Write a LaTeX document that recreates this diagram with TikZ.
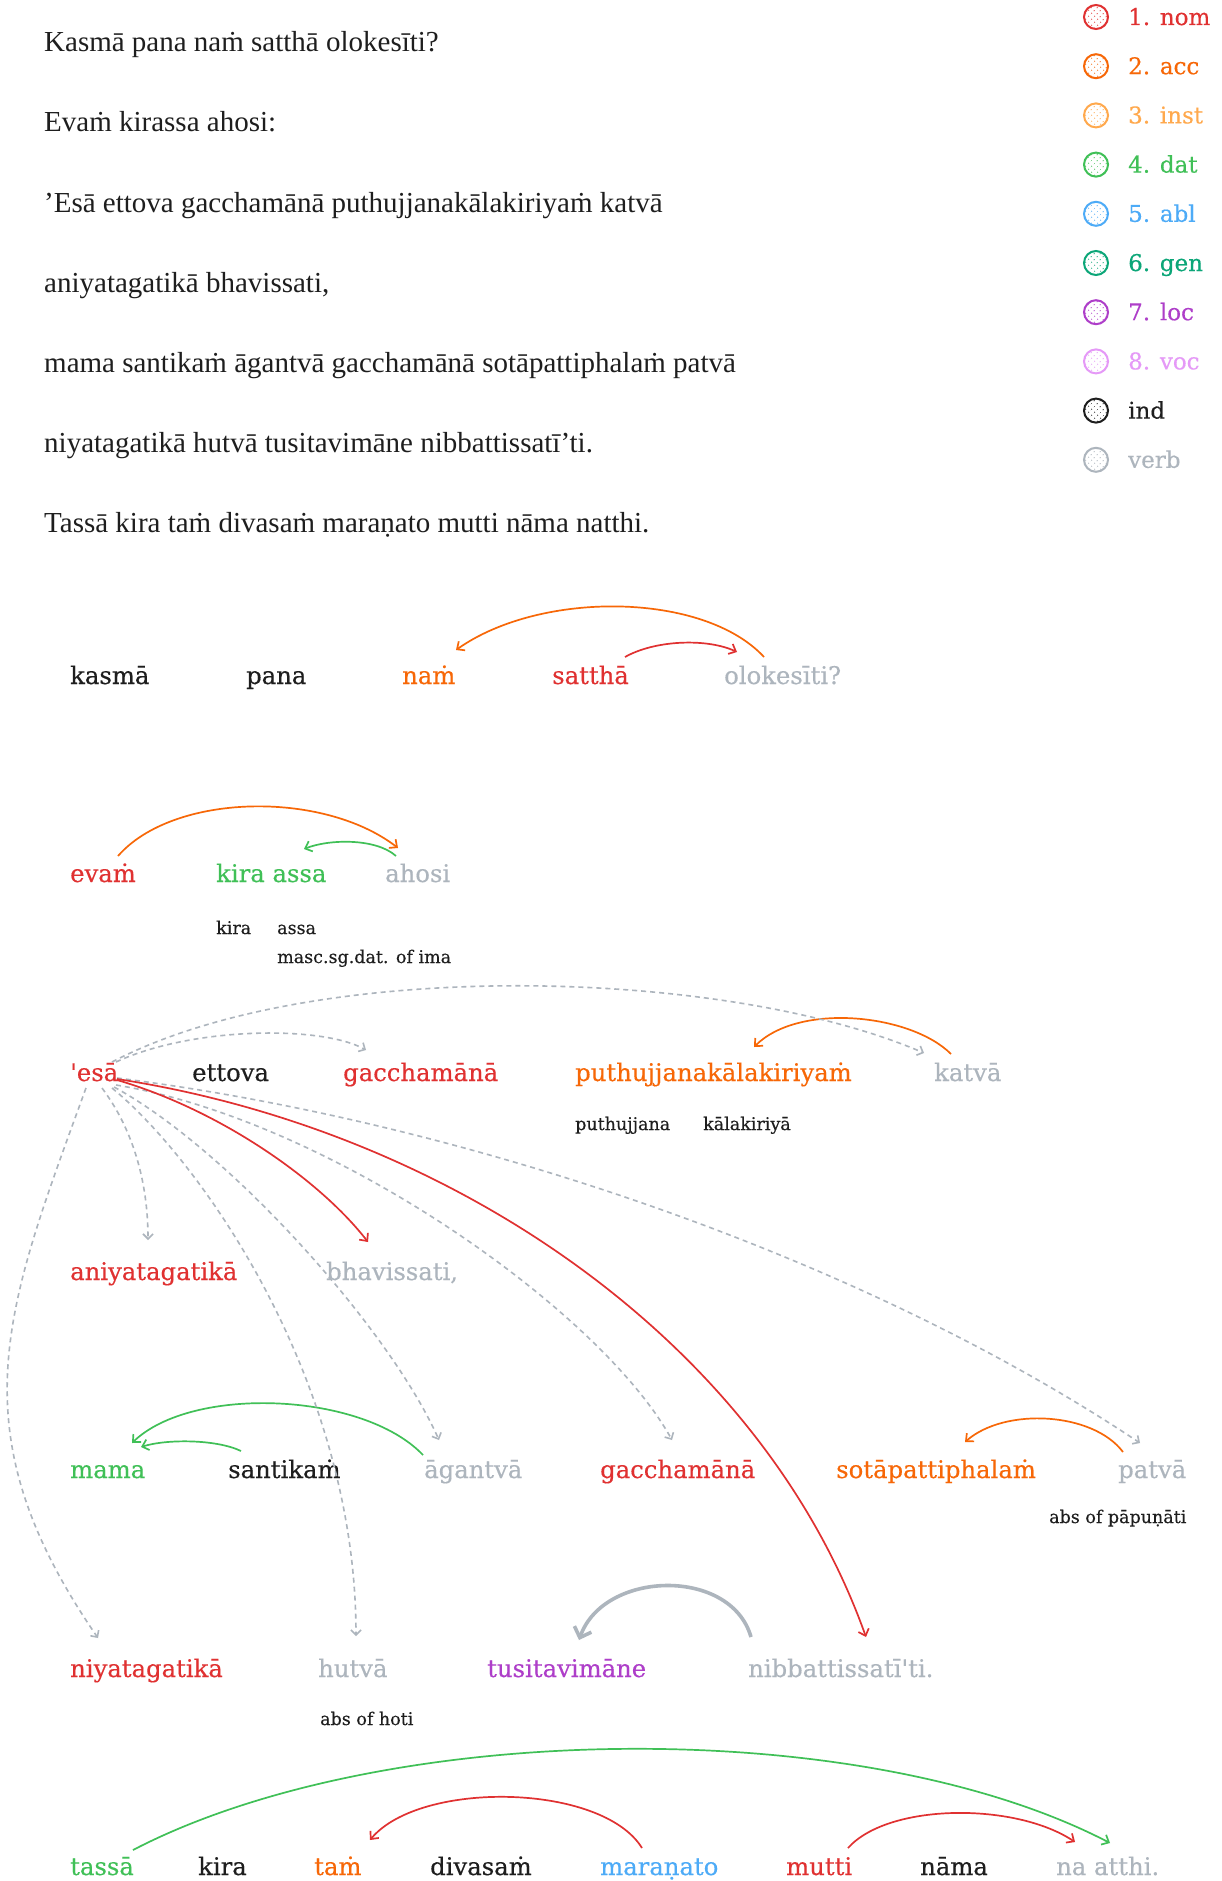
\documentclass[tikz,border=0pt]{standalone}
\usepackage{fontspec}
\setmainfont{DejaVu Serif}[Ligatures=TeXOff, FakeBold=0.35]
\newfontfamily\headfont{Liberation Serif}
\usetikzlibrary{arrows.meta,calc,patterns.meta}

% case palette
\definecolor{ink}{HTML}{1E1E1E}
\definecolor{nomc}{HTML}{E03131}
\definecolor{accc}{HTML}{F76707}
\definecolor{instc}{HTML}{FFA94D}
\definecolor{datc}{HTML}{40C057}
\definecolor{ablc}{HTML}{4DABF7}
\definecolor{genc}{HTML}{0CA678}
\definecolor{locc}{HTML}{AE3EC9}
\definecolor{vocc}{HTML}{E599F7}
\definecolor{verbc}{HTML}{ADB5BD}

\begin{document}
\begin{tikzpicture}[x=1pt,y=-1pt,
  word/.style={anchor=base west, inner sep=0pt, font=\fontsize{24.3}{28}\selectfont},
  note/.style={anchor=base west, inner sep=0pt, text=ink, font=\fontsize{17.5}{20}\selectfont},
  head/.style={anchor=base west, inner sep=0pt, text=ink, font=\headfont\fontsize{29}{34}\selectfont},
  legdot/.style={circle, inner sep=0pt, minimum size=24pt, line width=2pt, draw=#1,
                 pattern={Dots[distance=4pt,radius=0.75pt,angle=45]}, pattern color=#1!75},
  leglabel/.style={anchor=base west, inner sep=0pt, font=\fontsize{23}{26}\selectfont},
  link/.style={line width=1.7pt, -{Straight Barb[length=6pt,width=11pt]}},
  dep/.style={line width=1.6pt, draw=verbc, dash pattern=on 5pt off 4pt,
              -{Straight Barb[length=5pt,width=10pt]}},
  heavy/.style={line width=3.6pt, draw=verbc, -{Straight Barb[length=9pt,width=18pt]}}
]
\useasboundingbox (0,0) rectangle (1222,1881);
\fill[white] (0,0) rectangle (1222,1881);

% ---------- the sentences ----------
\node[head] (h1) at (44,52)  {Kasmā pana naṁ satthā olokesīti?};
\node[head] (h2) at (44,132) {Evaṁ kirassa ahosi:};
\node[head] (h3) at (44,212) {’Esā ettova gacchamānā puthujjanakālakiriyaṁ katvā};
\node[head] (h4) at (44,292) {aniyatagatikā bhavissati,};
\node[head] (h5) at (44,372) {mama santikaṁ āgantvā gacchamānā sotāpattiphalaṁ patvā};
\node[head] (h6) at (44,452) {niyatagatikā hutvā tusitavimāne nibbattissatī’ti.};
\node[head] (h7) at (44,532) {Tassā kira taṁ divasaṁ maraṇato mutti nāma natthi.};

% ---------- legend ----------
\foreach \i/\c/\t in {0/nomc/1. nom, 1/accc/2. acc, 2/instc/3. inst, 3/datc/4. dat,
                      4/ablc/5. abl, 5/genc/6. gen, 6/locc/7. loc, 7/vocc/8. voc,
                      8/ink/ind, 9/verbc/verb}{
  \node[legdot=\c] (dot\i) at (1096,{17+49.2*\i}) {};
  \node[leglabel, text=\c] (lab\i) at (1128,{25+49.2*\i}) {\t};
}

% ---------- row 1 ----------
\node[word, text=ink]   (kasma)  at (70,684)  {kasmā};
\node[word, text=ink]   (pana)   at (246,684) {pana};
\node[word, text=accc]  (nam)    at (402,684) {naṁ};
\node[word, text=nomc]  (sattha) at (552,684) {satthā};
\node[word, text=verbc] (olok)   at (724,684) {olokesīti?};

\draw[link, accc] ($(olok.base west)+(40,-27)$) .. controls +(-60,-65) and +(85,-60) .. ($(nam.base west)+(54,-34)$);
\draw[link, nomc] ($(sattha.base west)+(73,-27)$) .. controls +(30,-17) and +(-30,-14) .. ($(olok.base west)+(13,-32)$);

% ---------- row 2 ----------
\node[word, text=nomc]  (evam)     at (70,882)  {evaṁ};
\node[word, text=datc]  (kiraassa) at (216,882) {kira assa};
\node[word, text=verbc] (ahosi)    at (385,882) {ahosi};
\node[note] (nkira) at (216,934) {kira};
\node[note] (nassa) at (277,934) {assa};
\node[note] (nima)  at (277,963) {masc.sg.dat. of ima};

\draw[link, accc] ($(evam.base west)+(48,-26)$) .. controls +(55,-63) and +(-75,-58) .. ($(ahosi.base west)+(13,-34)$);
\draw[link, datc] ($(ahosi.base west)+(11,-26)$) .. controls +(-20,-18) and +(25,-10) .. ($(kiraassa.base west)+(88,-33)$);

% ---------- row 3 ----------
\node[word, text=nomc]  (esa)     at (70,1081)  {'esā};
\node[word, text=ink]   (ettova)  at (192,1081) {ettova};
\node[word, text=nomc]  (gaccha1) at (343,1081) {gacchamānā};
\node[word, text=accc]  (puthu)   at (575,1081) {puthujjanakālakiriyaṁ};
\node[word, text=verbc] (katva)   at (934,1081) {katvā};
\node[note] (nputhu) at (575,1130) {puthujjana};
\node[note] (nkala)  at (703,1130) {kālakiriyā};

\draw[link, accc] ($(katva.base west)+(17,-27)$) .. controls +(-40,-40) and +(45,-45) .. ($(puthu.base west)+(179,-34)$);

% ---------- row 4 ----------
\node[word, text=nomc]  (aniyata) at (70,1280)  {aniyatagatikā};
\node[word, text=verbc] (bhav)    at (326,1280) {bhavissati,};

% ---------- row 5 ----------
\node[word, text=datc]  (mama)      at (70,1478)   {mama};
\node[word, text=ink]   (santikam)  at (228,1478)  {santikaṁ};
\node[word, text=verbc] (agantva)   at (424,1478)  {āgantvā};
\node[word, text=nomc]  (gaccha2)   at (600,1478)  {gacchamānā};
\node[word, text=accc]  (sotapatti) at (836,1478)  {sotāpattiphalaṁ};
\node[word, text=verbc] (patva)     at (1118,1478) {patvā};
\node[note] (npapun) at (1049,1523) {abs of pāpuṇāti};

\draw[link, datc] ($(agantva.base west)+(-1,-23)$) .. controls +(-60,-63) and +(60,-58) .. ($(mama.base west)+(62,-35)$);
\draw[link, datc] ($(santikam.base west)+(13,-27)$) .. controls +(-25,-12) and +(25,-8) .. ($(mama.base west)+(71,-31)$);
\draw[link, accc] ($(patva.base west)+(5,-26)$) .. controls +(-30,-40) and +(40,-35) .. ($(sotapatti.base west)+(129,-36)$);

% ---------- row 6 ----------
\node[word, text=nomc]  (niyata)   at (70,1677)  {niyatagatikā};
\node[word, text=verbc] (hutva)    at (318,1677) {hutvā};
\node[word, text=locc]  (tusita)   at (487,1677) {tusitavimāne};
\node[word, text=verbc] (nibbatti) at (748,1677) {nibbattissatī'ti.};
\node[note] (nhoti) at (320,1725) {abs of hoti};

\draw[heavy] ($(nibbatti.base west)+(3,-40)$) .. controls +(-20,-70) and +(25,-70) .. ($(tusita.base west)+(92,-37)$);

% ---------- links from 'esā ----------
\draw[dep] ($(esa.base west)+(46,-19)$) .. controls +(75,-35) and +(-45,-25) .. ($(gaccha1.base west)+(23,-31)$);
\draw[dep] ($(esa.base west)+(42,-19)$) .. controls +(200,-105) and +(-200,-86) .. ($(katva.base west)+(-10,-28)$);
\draw[dep] ($(esa.base west)+(32,7)$) .. controls +(30,40) and +(0,-60) .. ($(aniyata.base west)+(78,-40)$);
\draw[dep] ($(esa.base west)+(16,7)$) .. controls +(-80,220) and +(-144,-209) .. ($(niyata.base west)+(28,-39)$);
\draw[dep] ($(esa.base west)+(42,7)$) .. controls +(88,72) and +(0,-256) .. ($(hutva.base west)+(38,-41)$);
\draw[dep] ($(esa.base west)+(44,6)$) .. controls +(116,63) and +(-49,-110) .. ($(agantva.base west)+(15,-38)$);
\draw[dep] ($(esa.base west)+(46,4)$) .. controls +(214,35) and +(-72,-130) .. ($(gaccha2.base west)+(72,-38)$);
\draw[dep] ($(esa.base west)+(47,-3)$) .. controls +(333,42) and +(-290,-193) .. ($(patva.base west)+(22,-35)$);
\draw[link, nomc] ($(esa.base west)+(47,-1)$) .. controls +(103,30) and +(-48,-62) .. ($(bhav.base west)+(42,-38)$);
\draw[link, nomc] ($(esa.base west)+(47,-2)$) .. controls +(333,51) and +(-106,-297) .. ($(nibbatti.base west)+(118,-40)$);

% ---------- row 7 ----------
\node[word, text=datc]  (tassa)    at (70,1875)   {tassā};
\node[word, text=ink]   (kira7)    at (198,1875)  {kira};
\node[word, text=accc]  (tam)      at (314,1875)  {taṁ};
\node[word, text=ink]   (divasam)  at (430,1875)  {divasaṁ};
\node[word, text=ablc]  (maranato) at (600,1875)  {maraṇato};
\node[word, text=nomc]  (mutti)    at (786,1875)  {mutti};
\node[word, text=ink]   (nama)     at (920,1875)  {nāma};
\node[word, text=verbc] (naatthi)  at (1056,1875) {na atthi.};

\draw[link, datc] ($(tassa.base west)+(63,-25)$) .. controls +(250,-130) and +(-250,-130) .. ($(naatthi.base west)+(54,-32)$);
\draw[link, nomc] ($(maranato.base west)+(42,-27)$) .. controls +(-40,-65) and +(50,-60) .. ($(tam.base west)+(56,-35)$);
\draw[link, nomc] ($(mutti.base west)+(62,-27)$) .. controls +(40,-45) and +(-60,-40) .. ($(naatthi.base west)+(19,-33)$);
\end{tikzpicture}
\end{document}
